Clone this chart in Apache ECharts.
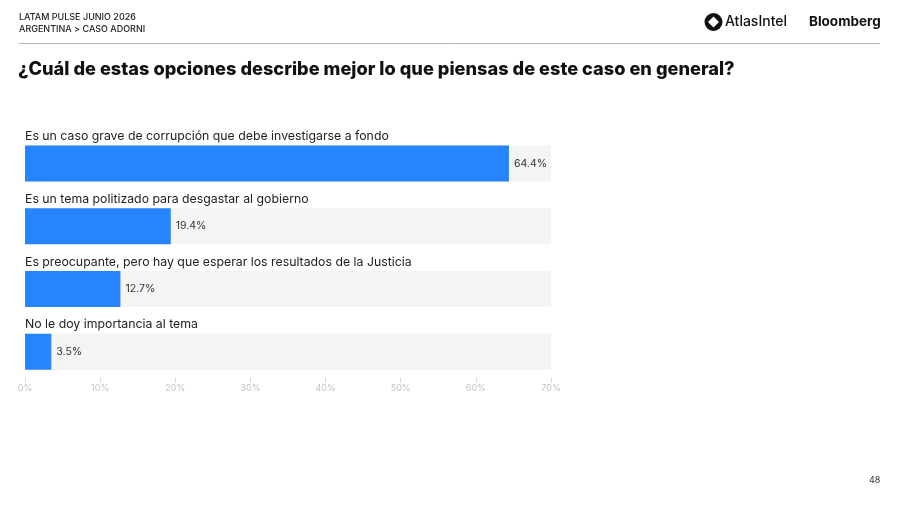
<!DOCTYPE html>
<html>
<head>
<meta charset="utf-8">
<script src="https://cdn.jsdelivr.net/npm/echarts@6/dist/echarts.min.js"></script>
<style>
  html, body { margin: 0; padding: 0; background: #fff; }
  #main { width: 900px; height: 506px; }
</style>
</head>
<body>
<div id="main"></div>
<script>
// opciones y porcentajes
var categorias = [
    'Es un caso grave de corrupción que debe investigarse a fondo',
    'Es un tema politizado para desgastar al gobierno',
    'Es preocupante, pero hay que esperar los resultados de la Justicia',
    'No le doy importancia al tema'
];
var valores = [64.4, 19.4, 12.7, 3.5];
var ejeMax = 70;
var fondo = categorias.map(function () { return ejeMax; });

var myChart = echarts.init(document.getElementById('main'));

option = {
    backgroundColor: '#fff',
    animation: false,
    textStyle: { fontFamily: 'Inter, "Noto Sans", sans-serif' },
    graphic: [
        { type: 'text', left: 19, top: 13, style: { text: 'LATAM PULSE JUNIO 2026', fill: '#222', font: '500 9px Inter' } },
        { type: 'text', left: 19, top: 25, style: { text: 'ARGENTINA > CASO ADORNI', fill: '#222', font: '500 9px Inter' } },
        { type: 'line', shape: { x1: 19, y1: 43.5, x2: 880, y2: 43.5 }, style: { stroke: '#b5b5b5', lineWidth: 1 } },
        { type: 'circle', shape: { cx: 713.5, cy: 22, r: 9 }, style: { fill: '#111' } },
        { type: 'polygon', shape: { points: [[713.5, 16.5], [719, 22], [713.5, 27.5], [708, 22]] }, style: { fill: '#fff' } },
        { type: 'text', left: 725, top: 15, style: { text: 'AtlasIntel', fill: '#111', font: '500 14px Inter' } },
        { type: 'text', left: 809, top: 15, style: { text: 'Bloomberg', fill: '#111', font: 'bold 13.5px Inter' } },
        { type: 'text', left: 18, top: 61, style: { text: '¿Cuál de estas opciones describe mejor lo que piensas de este caso en general?', fill: '#111', font: '800 18.2px Inter' } },
        { type: 'text', left: 869, top: 476, style: { text: '48', fill: '#333', font: '9px Inter' } }
    ],
    grid: { left: 25, right: 349, top: 132, bottom: 123, containLabel: false },
    xAxis: {
        type: 'value',
        min: 0,
        max: ejeMax,
        interval: 10,
        axisLine: { show: false },
        axisTick: { show: true, inside: true, length: 5, lineStyle: { color: '#d8d8d8' } },
        splitLine: { show: false },
        axisLabel: { formatter: '{value}%', color: '#c4c4c4', fontSize: 9, margin: 1 }
    },
    yAxis: {
        type: 'category',
        data: categorias,
        inverse: true,
        show: false
    },
    series: [
        {
            type: 'bar',
            data: fondo,
            barWidth: 36,
            itemStyle: { color: '#f4f4f2' },
            silent: true,
            label: {
                show: true,
                position: [0, -3],
                align: 'left',
                verticalAlign: 'bottom',
                formatter: function (p) { return p.name; },
                color: '#222',
                fontSize: 12.3
            }
        },
        {
            type: 'bar',
            data: valores,
            barWidth: 36,
            barGap: '-100%',
            itemStyle: { color: '#2684fc' },
            label: {
                show: true,
                position: 'right',
                distance: 5,
                formatter: function (p) { return p.value.toFixed(1) + '%'; },
                color: '#333',
                fontSize: 10.5
            }
        }
    ]
};
myChart.setOption(option);
</script>
</body>
</html>
